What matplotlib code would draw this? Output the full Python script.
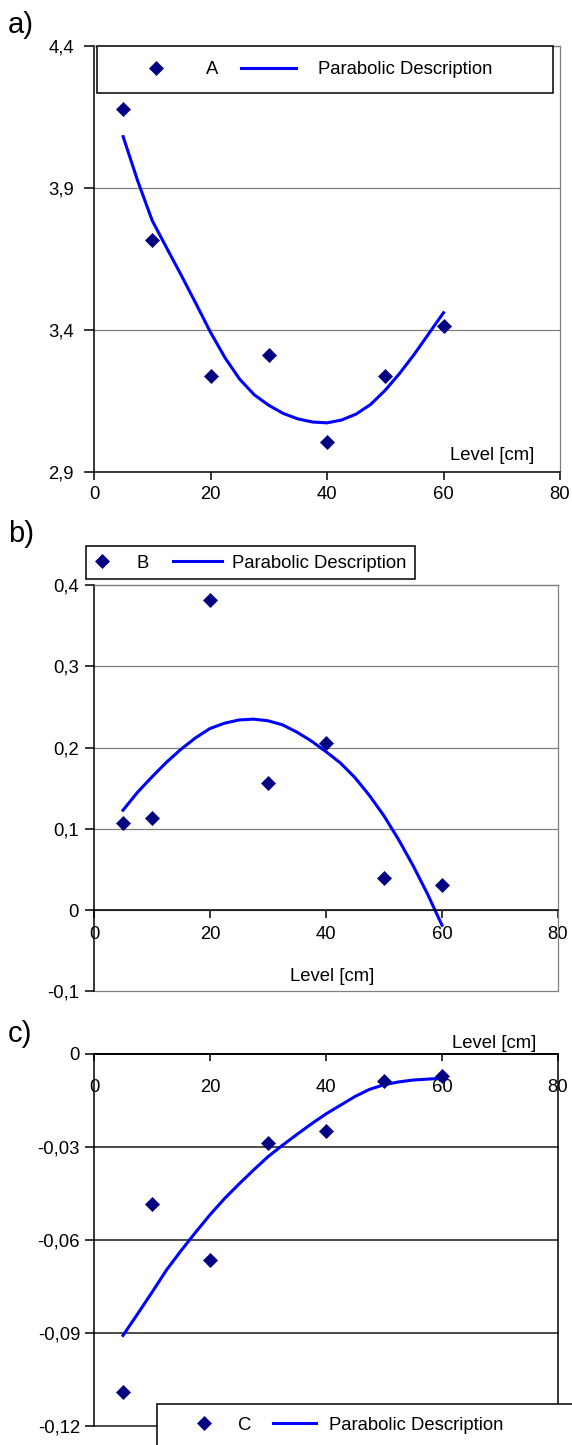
import matplotlib
matplotlib.use('Agg')
import matplotlib.pyplot as plt
from matplotlib.legend_handler import HandlerLine2D
from matplotlib.patches import Rectangle

plt.rcParams['font.family'] = ['Liberation Sans', 'DejaVu Sans']

W, H = 572, 1445
FS = 13.3

# measured values
level = [5, 10, 20, 30, 40, 50, 60]
fit_level = [5, 7.5, 10, 12.5, 15, 17.5, 20, 22.5, 25, 27.5, 30, 32.5,
             35, 37.5, 40, 42.5, 45, 47.5, 50, 52.5, 55, 57.5, 60]

a_points = [4.178, 3.716, 3.239, 3.312, 3.004, 3.239, 3.414]
a_curve = [4.081, 3.925, 3.785, 3.688, 3.592, 3.493, 3.392, 3.302, 3.227,
           3.172, 3.135, 3.106, 3.087, 3.076, 3.073, 3.083, 3.104, 3.138,
           3.188, 3.248, 3.315, 3.388, 3.461]

b_points = [0.107, 0.114, 0.381, 0.157, 0.206, 0.040, 0.031]
b_curve = [0.123, 0.145, 0.164, 0.182, 0.198, 0.212, 0.2235, 0.230, 0.234,
           0.235, 0.233, 0.228, 0.219, 0.208, 0.195, 0.181, 0.163, 0.141,
           0.116, 0.087, 0.055, 0.020, -0.0185]

c_points = [-0.1088, -0.0484, -0.0664, -0.0286, -0.0247, -0.0087, -0.0070]
c_curve = [-0.0907, -0.0838, -0.0768, -0.0696, -0.0634, -0.0575, -0.0518,
           -0.0466, -0.0419, -0.0374, -0.0331, -0.0294, -0.0259, -0.0225,
           -0.0193, -0.0165, -0.0137, -0.0114, -0.0099, -0.0090, -0.0084,
           -0.0081, -0.0078]

x_ticks = [0, 20, 40, 60, 80]
a_yticks = [2.9, 3.4, 3.9, 4.4]
a_ylabels = ['2,9', '3,4', '3,9', '4,4']
b_yticks = [-0.1, 0, 0.1, 0.2, 0.3, 0.4]
b_ylabels = ['-0,1', '0', '0,1', '0,2', '0,3', '0,4']
c_yticks = [-0.12, -0.09, -0.06, -0.03, 0]
c_ylabels = ['-0,12', '-0,09', '-0,06', '-0,03', '0']

MARK = '#000080'
BLUE = '#0000ff'
GRAY = '#808080'


def box(l, t, r, b):
    # pixel box -> figure fraction
    return [l / W, 1 - b / H, (r - l) / W, (b - t) / H]


class MarkerShift(HandlerLine2D):
    # puts the legend marker near the label, like Excel does
    def __init__(self, shift):
        super().__init__(numpoints=1)
        self.shift = shift

    def get_xdata(self, legend, xdescent, ydescent, width, height, fontsize):
        xdata, _ = super().get_xdata(legend, xdescent, ydescent, width, height, fontsize)
        return xdata, [width + self.shift]


fig = plt.figure(figsize=(W / 100, H / 100), dpi=100)


def draw(ax, pts, curve):
    ln, = ax.plot(fit_level, curve, color=BLUE, lw=2.2, zorder=2,
                  solid_joinstyle='round')
    pt, = ax.plot(level, pts, ls='none', marker='D', ms=6.8, color=MARK,
                  mec=MARK, mew=0.5, zorder=3)
    return pt, ln


def legend(pt, ln, label, x0, yc, h, pad, colsp, shift):
    em = FS / 72 * 100
    fig.legend([pt, ln], [label, 'Parabolic Description'], ncol=2,
               loc='center left', bbox_to_anchor=(x0 / W, 1 - yc / H),
               frameon=False, borderpad=0, borderaxespad=0,
               handlelength=h / em, handletextpad=pad / em,
               columnspacing=colsp / em, fontsize=FS,
               handler_map={pt: MarkerShift(shift * 0.72)})


def frame(l, t, r, b):
    fig.add_artist(Rectangle((l / W, 1 - b / H), (r - l) / W, (b - t) / H,
                             transform=fig.transFigure, facecolor='white',
                             edgecolor='black', lw=1.1, zorder=4))


# ---------- a) ----------
ax_a = fig.add_axes(box(94, 46, 560, 472))
pt, ln = draw(ax_a, a_points, a_curve)
ax_a.set_xlim(0, 80)
ax_a.set_ylim(2.9, 4.4)
ax_a.set_xticks(x_ticks)
ax_a.set_yticks(a_yticks, a_ylabels)
ax_a.grid(axis='y', color=GRAY, lw=0.9)
ax_a.set_axisbelow(True)
for s in ['left', 'bottom']:
    ax_a.spines[s].set_color('black')
    ax_a.spines[s].set_linewidth(1.1)
for s in ['top', 'right']:
    ax_a.spines[s].set_color(GRAY)
    ax_a.spines[s].set_linewidth(0.9)
ax_a.tick_params(axis='y', direction='out', length=7, width=1.1, labelsize=FS, pad=7.5)
ax_a.tick_params(axis='x', direction='out', length=6, width=1.1, labelsize=FS, pad=4)
ax_a.text(0.946, 0.0376, 'Level [cm]', transform=ax_a.transAxes,
          ha='right', va='center', fontsize=FS)
frame(97, 46, 553, 92.7)
legend(pt, ln, 'A', 128.5, 70, 55, 22.5, 22.5, 3.5)
fig.text(8 / W, 1 - 33 / H, 'a)', fontsize=21, va='baseline')

# ---------- b) ----------
ax_b = fig.add_axes(box(94, 585, 558, 991.5))
pt, ln = draw(ax_b, b_points, b_curve)
ax_b.set_xlim(0, 80)
ax_b.set_ylim(-0.1, 0.4)
ax_b.set_xticks(x_ticks)
ax_b.set_yticks(b_yticks, b_ylabels)
ax_b.grid(axis='y', color=GRAY, lw=0.9)
for g in ax_b.get_ygridlines():
    g.set_clip_on(False)
ax_b.set_axisbelow(True)
ax_b.spines['bottom'].set_position(('data', 0))
ax_b.spines['bottom'].set_linewidth(1.1)
ax_b.spines['left'].set_linewidth(1.1)
for s in ['top', 'right']:
    ax_b.spines[s].set_color(GRAY)
    ax_b.spines[s].set_linewidth(0.9)
ax_b.tick_params(axis='y', direction='out', length=6.5, width=1.1, labelsize=FS, pad=4.5)
ax_b.tick_params(axis='x', direction='out', length=5.5, width=1.1, labelsize=FS, pad=6)
ax_b.text(0.513, 0.0357, 'Level [cm]', transform=ax_b.transAxes,
          ha='center', va='center', fontsize=FS)
frame(86, 546, 415, 579)
legend(pt, ln, 'B', 77.5, 563, 49, 10, 24, -11.5)
fig.text(8 / W, 1 - 541.7 / H, 'b)', fontsize=21, va='baseline')

# ---------- c) ----------
ax_c = fig.add_axes(box(94, 1054, 558, 1426.4))
pt, ln = draw(ax_c, c_points, c_curve)
ax_c.set_xlim(0, 80)
ax_c.set_ylim(-0.12, 0)
ax_c.set_xticks(x_ticks)
ax_c.set_yticks(c_yticks, c_ylabels)
ax_c.grid(axis='y', color='#1a1a1a', lw=1.1)
for g in ax_c.get_ygridlines():
    g.set_clip_on(False)
ax_c.set_axisbelow(True)
ax_c.spines['bottom'].set_position(('data', 0))
for s in ['left', 'bottom', 'top', 'right']:
    ax_c.spines[s].set_color('black')
    ax_c.spines[s].set_linewidth(1.1)
ax_c.tick_params(axis='y', direction='out', length=6.5, width=1.1, labelsize=FS, pad=3.5)
ax_c.tick_params(axis='x', direction='out', length=5, width=1.1, labelsize=FS, pad=13)
ax_c.text(0.9526, 1.027, 'Level [cm]', transform=ax_c.transAxes,
          ha='right', va='center', fontsize=FS)
frame(157, 1404, 590, 1460)
legend(pt, ln, 'C', 182.5, 1425, 43, 12.5, 22, -7.5)
fig.text(8 / W, 1 - 1041.7 / H, 'c)', fontsize=21, va='baseline')

fig.savefig('out.png', dpi=100)
